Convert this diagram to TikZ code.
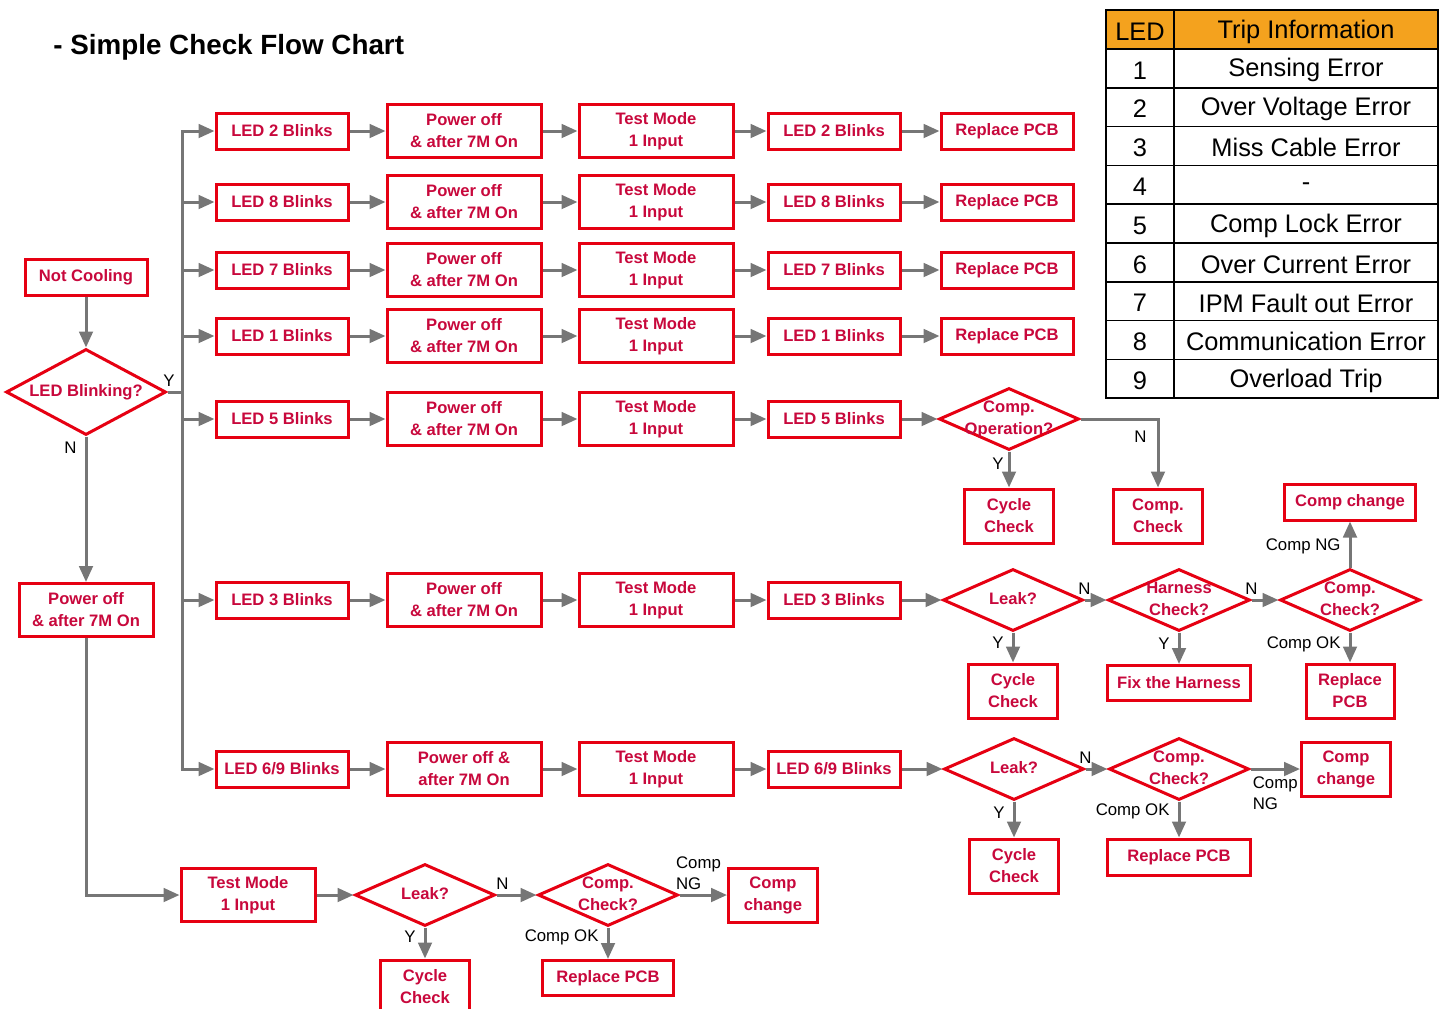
\documentclass[tikz,border=0pt]{standalone}
\usepackage{fontspec}
\setmainfont{Liberation Sans}
\usetikzlibrary{arrows.meta,shapes.geometric}
\definecolor{edge}{RGB}{230,0,18}
\definecolor{ink}{RGB}{200,8,60}
\definecolor{wire}{RGB}{118,118,118}
\definecolor{head}{RGB}{244,162,30}
\tikzset{
  box/.style={draw=edge, line width=1.5pt, text=ink, fill=white, inner sep=2pt, align=center,
    font=\bfseries\fontsize{8.3}{11}\selectfont},
  slim/.style={box, minimum width=66pt, minimum height=18pt},
  tall/.style={box, minimum width=77pt, minimum height=26.5pt},
  small/.style={box, minimum width=44.5pt, minimum height=27pt},
  dia/.style={box, diamond, inner sep=0pt, minimum width=70pt, minimum height=31pt},
  flow/.style={-{Triangle[length=8pt,width=6.8pt]}, line width=1.5pt, color=wire},
  wire/.style={line width=1.5pt, color=wire},
  lbl/.style={font=\fontsize{8.4}{10.5}\selectfont, text=black, inner sep=2pt, align=left},
  cell/.style={font=\fontsize{12.7}{14}\selectfont, text=black, yshift=-1pt},
}
% diamond text: no width, so the diamond keeps its own size
\newcommand{\dtxt}[1]{\makebox[0pt]{\begin{tabular}{@{}c@{}}#1\end{tabular}}}

\begin{document}
\begin{tikzpicture}[x=0.5pt, y=-0.5pt]
  \useasboundingbox (0,0) rectangle (1445,1008);
  \node[anchor=west, inner sep=0pt, font=\bfseries\fontsize{13.9}{16}\selectfont] (title) at (53,47) {- Simple Check Flow Chart};

  % trip table
  \fill[head] (1106,10) rectangle (1438,49);
  \draw[line width=0.75pt] (1106,10) rectangle (1438,398);
  \draw[line width=0.75pt] (1174,10) -- (1174,398);
  \foreach \i in {0,...,8} \draw[line width=0.75pt] (1106,49+38.8*\i) -- (1438,49+38.8*\i);
  \node[cell] (hled) at (1140,29.5) {LED};
  \node[cell] (hinfo) at (1306,29.5) {Trip Information};
  \foreach \n/\msg in {1/Sensing Error, 2/Over Voltage Error, 3/Miss Cable Error, 4/-,
      5/Comp Lock Error, 6/Over Current Error, 7/IPM Fault out Error, 8/Communication Error, 9/Overload Trip} {
    \node[cell] (num\n) at (1140,29.5+38.8*\n) {\n};
    \node[cell] (info\n) at (1306,29.5+38.8*\n) {\msg};
  }

  % start
  \node[box, minimum width=61pt, minimum height=18pt] (nc) at (86,277) {Not Cooling};
  \node[dia, minimum width=80pt, minimum height=43pt] (blink) at (86,392) {\dtxt{LED Blinking?}};
  \node[box, minimum width=67pt, minimum height=26.5pt] (pw) at (86,610) {Power off\\ \& after 7M On};
  \coordinate (trunk) at (182,392);
  \draw[flow] (nc) -- (blink);
  \draw[flow] (blink) -- node[lbl, pos=0.08, left, xshift=-2pt] {N} (pw);
  \draw[wire] (blink) -- node[lbl, pos=0.1, above] {Y} (trunk);

  % LED 2
  \node[slim] (led2) at (282,131) {LED 2 Blinks};
  \node[tall] (off2) at (464,131) {Power off\\ \& after 7M On};
  \node[tall] (test2) at (656,131) {Test Mode\\ 1 Input};
  \node[slim] (chk2) at (834,131) {LED 2 Blinks};
  \node[slim] (pcb2) at (1007,131) {Replace PCB};
  \draw[flow] (trunk) |- (led2);
  \draw[flow] (led2) -- (off2);
  \draw[flow] (off2) -- (test2);
  \draw[flow] (test2) -- (chk2);
  \draw[flow] (chk2) -- (pcb2);

  % LED 8
  \node[slim] (led8) at (282,202) {LED 8 Blinks};
  \node[tall] (off8) at (464,202) {Power off\\ \& after 7M On};
  \node[tall] (test8) at (656,202) {Test Mode\\ 1 Input};
  \node[slim] (chk8) at (834,202) {LED 8 Blinks};
  \node[slim] (pcb8) at (1007,202) {Replace PCB};
  \draw[flow] (trunk) |- (led8);
  \draw[flow] (led8) -- (off8);
  \draw[flow] (off8) -- (test8);
  \draw[flow] (test8) -- (chk8);
  \draw[flow] (chk8) -- (pcb8);

  % LED 7
  \node[slim] (led7) at (282,270) {LED 7 Blinks};
  \node[tall] (off7) at (464,270) {Power off\\ \& after 7M On};
  \node[tall] (test7) at (656,270) {Test Mode\\ 1 Input};
  \node[slim] (chk7) at (834,270) {LED 7 Blinks};
  \node[slim] (pcb7) at (1007,270) {Replace PCB};
  \draw[flow] (trunk) |- (led7);
  \draw[flow] (led7) -- (off7);
  \draw[flow] (off7) -- (test7);
  \draw[flow] (test7) -- (chk7);
  \draw[flow] (chk7) -- (pcb7);

  % LED 1
  \node[slim] (led1) at (282,336) {LED 1 Blinks};
  \node[tall] (off1) at (464,336) {Power off\\ \& after 7M On};
  \node[tall] (test1) at (656,336) {Test Mode\\ 1 Input};
  \node[slim] (chk1) at (834,336) {LED 1 Blinks};
  \node[slim] (pcb1) at (1007,336) {Replace PCB};
  \draw[flow] (trunk) |- (led1);
  \draw[flow] (led1) -- (off1);
  \draw[flow] (off1) -- (test1);
  \draw[flow] (test1) -- (chk1);
  \draw[flow] (chk1) -- (pcb1);

  % LED 5
  \node[slim] (led5) at (282,419) {LED 5 Blinks};
  \node[tall] (off5) at (464,419) {Power off\\ \& after 7M On};
  \node[tall] (test5) at (656,419) {Test Mode\\ 1 Input};
  \node[slim] (chk5) at (834,419) {LED 5 Blinks};
  \node[dia] (op5) at (1009,419) {\dtxt{Comp.\\Operation?}};
  \node[small] (cyc5) at (1009,516) {Cycle\\ Check};
  \node[small] (comp5) at (1158,516) {Comp.\\ Check};
  \draw[flow] (trunk) |- (led5);
  \draw[flow] (led5) -- (off5);
  \draw[flow] (off5) -- (test5);
  \draw[flow] (test5) -- (chk5);
  \draw[flow] (chk5) -- (op5);
  \draw[flow] (op5) -- node[lbl, pos=0.35, left] {Y} (cyc5);
  \draw[flow] (op5) -| node[lbl, pos=0.63, left, xshift=-3pt] {N} (comp5);

  % LED 3
  \node[slim] (led3) at (282,600) {LED 3 Blinks};
  \node[tall] (off3) at (464,600) {Power off\\ \& after 7M On};
  \node[tall] (test3) at (656,600) {Test Mode\\ 1 Input};
  \node[slim] (chk3) at (834,600) {LED 3 Blinks};
  \node[dia] (leak3) at (1013,600) {\dtxt{Leak?}};
  \node[small] (cyc3) at (1013,691) {Cycle\\ Check};
  \node[dia, minimum width=71pt] (harn3) at (1179,600) {\dtxt{Harness\\Check?}};
  \node[box, minimum width=71.5pt, minimum height=17.5pt] (fix3) at (1179,683) {Fix the Harness};
  \node[dia] (cc3) at (1350,600) {\dtxt{Comp.\\Check?}};
  \node[box, minimum width=65.5pt, minimum height=18pt] (chg3) at (1350,502) {Comp change};
  \node[small, minimum width=44pt] (pcb3) at (1350,691) {Replace\\ PCB};
  \draw[flow] (trunk) |- (led3);
  \draw[flow] (led3) -- (off3);
  \draw[flow] (off3) -- (test3);
  \draw[flow] (test3) -- (chk3);
  \draw[flow] (chk3) -- (leak3);
  \draw[flow] (leak3) -- node[lbl, pos=0.35, left, xshift=-2pt] {Y} (cyc3);
  \draw[flow] (leak3) -- node[lbl, pos=0, above] {N} (harn3);
  \draw[flow] (harn3) -- node[lbl, pos=0.35, left, xshift=-2pt] {Y} (fix3);
  \draw[flow] (harn3) -- node[lbl, pos=0, above] {N} (cc3);
  \draw[flow] (cc3) -- node[lbl, pos=0.45, left, xshift=-2pt] {Comp NG} (chg3);
  \draw[flow] (cc3) -- node[lbl, pos=0.4, left, xshift=-2pt] {Comp OK} (pcb3);

  % LED 6/9
  \node[slim] (led69) at (282,769) {LED 6/9 Blinks};
  \node[tall] (off69) at (464,769) {Power off \&\\ after 7M On};
  \node[tall] (test69) at (656,769) {Test Mode\\ 1 Input};
  \node[slim] (chk69) at (834,769) {LED 6/9 Blinks};
  \node[dia] (leak69) at (1014,769) {\dtxt{Leak?}};
  \node[small] (cyc69) at (1014,866) {Cycle\\ Check};
  \node[dia] (cc69) at (1179,769) {\dtxt{Comp.\\Check?}};
  \node[box, minimum width=71.5pt, minimum height=18pt] (pcb69) at (1179,857) {Replace PCB};
  \node[small] (chg69) at (1346,769) {Comp\\ change};
  \draw[flow] (trunk) |- (led69);
  \draw[flow] (led69) -- (off69);
  \draw[flow] (off69) -- (test69);
  \draw[flow] (test69) -- (chk69);
  \draw[flow] (chk69) -- (leak69);
  \draw[flow] (leak69) -- node[lbl, pos=0.3, left, xshift=-2pt] {Y} (cyc69);
  \draw[flow] (leak69) -- node[lbl, pos=0, above] {N} (cc69);
  \draw[flow] (cc69) -- node[lbl, pos=0.28, left, xshift=-2pt] {Comp OK} (pcb69);
  \draw[flow] (cc69) -- node[lbl, pos=0.5, below, yshift=-1pt] {Comp\\NG} (chg69);

  % no blinking
  \node[box, minimum width=67pt, minimum height=26.5pt] (testB) at (248,895) {Test Mode\\ 1 Input};
  \node[dia] (leakB) at (425,895) {\dtxt{Leak?}};
  \node[small] (cycB) at (425,987) {Cycle\\ Check};
  \node[dia] (ccB) at (608,895) {\dtxt{Comp.\\Check?}};
  \node[box, minimum width=65.5pt, minimum height=17.5pt] (pcbB) at (608,978) {Replace PCB};
  \node[small] (chgB) at (773,895) {Comp\\ change};
  \draw[flow] (pw) |- (testB);
  \draw[flow] (testB) -- (leakB);
  \draw[flow] (leakB) -- node[lbl, pos=0.3, left, xshift=-2pt] {Y} (cycB);
  \draw[flow] (leakB) -- node[lbl, pos=0.15, above] {N} (ccB);
  \draw[flow] (ccB) -- node[lbl, pos=0.3, left, xshift=-2pt] {Comp OK} (pcbB);
  \draw[flow] (ccB) -- node[lbl, pos=0.4, above] {Comp\\NG} (chgB);
\end{tikzpicture}
\end{document}
